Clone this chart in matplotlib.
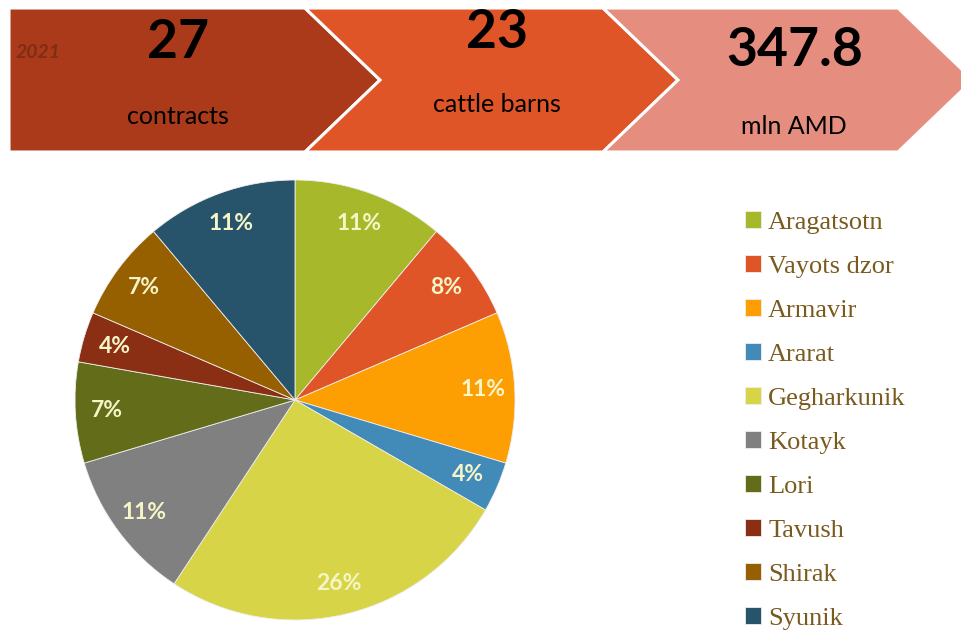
import matplotlib
matplotlib.use("Agg")
import matplotlib.pyplot as plt
from matplotlib.patches import Polygon
import numpy as np

# ---- data ----
regions = ["Aragatsotn", "Vayots dzor", "Armavir", "Ararat", "Gegharkunik",
           "Kotayk", "Lori", "Tavush", "Shirak", "Syunik"]
contracts = [3, 2, 3, 1, 7, 3, 2, 1, 2, 3]
pct_labels = ["11%", "8%", "11%", "4%", "26%", "11%", "7%", "4%", "7%", "11%"]
colors = ["#A7B92B", "#E05528", "#FD9E02", "#428BB8", "#D7D448",
          "#808080", "#636C18", "#8A2E14", "#965F00", "#28546B"]

year = "2021"
kpi_values = ["27", "23", "347.8"]
kpi_units = ["contracts", "cattle barns", "mln AMD"]
kpi_colors = ["#AA3A19", "#E05528", "#E58E80"]

W, H = 962, 634
fig = plt.figure(figsize=(W / 100, H / 100), dpi=100)
fig.patch.set_facecolor("white")

# background axes in pixel coords
bg = fig.add_axes([0, 0, 1, 1])
bg.set_xlim(0, W)
bg.set_ylim(H, 0)
bg.axis("off")

# chevron banners
shapes = [
    [(9, 8), (305, 8), (380, 80), (305, 152), (9, 152)],
    [(305, 8), (603, 8), (678, 80), (603, 152), (305, 152), (380, 80)],
    [(603, 8), (898, 8), (973, 80), (898, 152), (603, 152), (678, 80)],
]
for pts, c in zip(shapes, kpi_colors):
    bg.add_patch(Polygon(pts, closed=True, facecolor=c, edgecolor="white",
                         linewidth=2.2, joinstyle="miter"))

bg.text(38, 52, year, ha="center", va="center", fontsize=14, fontweight="bold",
        style="italic", color="#7E2E14", family="Lato")

val_pos = [(178, 42), (497, 32), (795, 50)]
unit_pos = [(178, 117), (497, 105), (794, 126)]
for v, u, (vx, vy), (ux, uy) in zip(kpi_values, kpi_units, val_pos, unit_pos):
    bg.text(vx, vy, v, ha="center", va="center", fontsize=38.5, fontweight="bold",
            color="black", family="Lato")
    bg.text(ux, uy, u, ha="center", va="center", fontsize=18,
            color="black", family="Lato")

# pie
cx, cy, r = 295, 400, 220
pie_ax = fig.add_axes([(cx - r) / W, (H - cy - r) / H, 2 * r / W, 2 * r / H])
wedges, _ = pie_ax.pie(contracts, colors=colors, startangle=90, counterclock=False,
                       radius=1.0,
                       wedgeprops=dict(edgecolor="#EEEEEE", linewidth=0.6))
tot = sum(contracts)
cum = 0
for val, lab in zip(contracts, pct_labels):
    mid = 90 - (cum + val / 2) / tot * 360
    cum += val
    a = np.deg2rad(mid)
    pie_ax.text(0.855 * np.cos(a), 0.855 * np.sin(a), lab, ha="center", va="center",
                fontsize=16.5, fontweight="bold", color="#F5F5C8", family="Lato")
pie_ax.set_xlim(-1, 1)
pie_ax.set_ylim(-1, 1)
pie_ax.set_aspect("equal")
pie_ax.axis("off")

# legend
leg = fig.legend(wedges, regions, loc="upper left",
                 bbox_to_anchor=(745 / W, 1 - 211 / H),
                 frameon=False, prop=dict(family="Liberation Serif", size=19),
                 labelcolor="#7A5A1E", handlelength=0.6, handleheight=0.6,
                 handletextpad=0.28, labelspacing=0.81, borderpad=0, borderaxespad=0)
for h in leg.legend_handles:
    h.set_edgecolor("#EEEEEE")
    h.set_linewidth(0.6)

fig.savefig("out.png", dpi=100, facecolor="white")
